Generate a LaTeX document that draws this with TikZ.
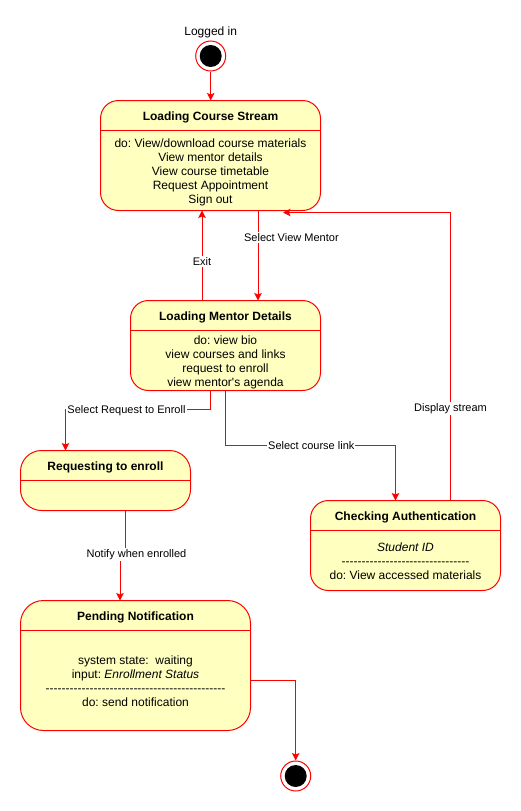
\documentclass[tikz,border=0pt]{standalone}
\usepackage{fontspec}
\setmainfont{Liberation Sans}[Ligatures=TeXOff]
\usetikzlibrary{arrows.meta}
\definecolor{stfill}{HTML}{FFFFC0}
\definecolor{stred}{HTML}{FF0000}
\newcommand\hyphrow[1]{\foreach \k in {1,...,#1}{-\kern0pt}}
\frenchspacing
\begin{document}
\begin{tikzpicture}[x=1pt,y=-1pt,
  statebox/.style={draw=stred, fill=stfill, line width=1pt, rectangle, anchor=north west, inner sep=0pt, outer sep=0pt},
  divider/.style={draw=stred, line width=1pt},
  ttl/.style={font=\fontsize{12}{14}\selectfont\bfseries, anchor=base, inner sep=0pt},
  bodytxt/.style={font=\fontsize{12}{14}\selectfont, anchor=base, inner sep=0pt},
  elabel/.style={font=\fontsize{11}{13}\selectfont, anchor=base, fill=white, inner xsep=1pt, inner ysep=1.5pt},
  conn/.style={draw=stred, line width=1pt, -{Stealth[length=7.5pt,width=7.5pt,inset=1.5pt]}},
  startstop/.style={circle, draw=stred, fill=white, line width=1pt, minimum size=30pt, inner sep=0pt},
]
\useasboundingbox (0,0) rectangle (521,811);
\fill[white] (0,0) rectangle (521,811);

% start / end states
\node[bodytxt] (loggedin) at (210.7,35.3) {Logged in};
\node[startstop] (init) at (210.7,56) {};
\fill[black] (init.center) circle (11);
\node[startstop] (fin) at (295.7,776) {};
\fill[black] (fin.center) circle (11);

% state boxes
\node[statebox, rounded corners=18pt, minimum width=220pt, minimum height=110pt] (cs) at (100.5,100.5) {};
\draw[divider] ([yshift=-30pt]cs.north west) -- ([yshift=-30pt]cs.north east);
\node[statebox, rounded corners=18pt, minimum width=190pt, minimum height=90pt] (md) at (130.5,300.5) {};
\draw[divider] ([yshift=-30pt]md.north west) -- ([yshift=-30pt]md.north east);
\node[statebox, rounded corners=21pt, minimum width=170pt, minimum height=60pt] (rq) at (20.5,450.5) {};
\draw[divider] ([yshift=-30pt]rq.north west) -- ([yshift=-30pt]rq.north east);
\node[statebox, rounded corners=18pt, minimum width=190pt, minimum height=90pt] (ca) at (310.5,500.5) {};
\draw[divider] ([yshift=-30pt]ca.north west) -- ([yshift=-30pt]ca.north east);
\node[statebox, rounded corners=23pt, minimum width=230pt, minimum height=130pt] (pn) at (20.5,600.5) {};
\draw[divider] ([yshift=-30pt]pn.north west) -- ([yshift=-30pt]pn.north east);

% texts: Loading Course Stream
\node[ttl] (cs-t) at (210.5,120.3) {Loading Course Stream};
\node[bodytxt] (cs-1) at (210.5,147) {do: View/download course materials};
\node[bodytxt] (cs-2) at (210.5,161) {View mentor details};
\node[bodytxt] (cs-3) at (210.5,175) {View course timetable};
\node[bodytxt] (cs-4) at (210.5,189) {Request Appointment};
\node[bodytxt] (cs-5) at (210.5,203) {Sign out};

% Loading Mentor Details
\node[ttl] (md-t) at (225.5,320.3) {Loading Mentor Details};
\node[bodytxt] (md-1) at (225.5,344) {do: view bio};
\node[bodytxt] (md-2) at (225.5,358) {view courses and links};
\node[bodytxt] (md-3) at (225.5,372) {request to enroll};
\node[bodytxt] (md-4) at (225.5,386) {view mentor's agenda};

% Requesting to enroll
\node[ttl] (rq-t) at (105.5,470.3) {Requesting to enroll};

% Checking Authentication
\node[ttl] (ca-t) at (405.5,520.3) {Checking Authentication};
\node[bodytxt] (ca-1) at (405.5,551) {\itshape Student ID};
\node[bodytxt] (ca-2) at (405.5,565) {\hyphrow{32}};
\node[bodytxt] (ca-3) at (405.5,579) {do: View accessed materials};

% Pending Notification
\node[ttl] (pn-t) at (135.5,620.3) {Pending Notification};
\node[bodytxt] (pn-1) at (135.5,664) {system state:\ \ waiting};
\node[bodytxt] (pn-2) at (135.5,678) {input: \textit{Enrollment Status}};
\node[bodytxt] (pn-3) at (135.5,692) {\hyphrow{45}};
\node[bodytxt] (pn-4) at (135.5,706) {do: send notification};

% connectors
\coordinate (dsEnd) at ([xshift=72.5pt,yshift=-2pt]cs.south);
\draw[conn] (init) -- (init |- cs.north);
\draw[conn] ([xshift=47.5pt]cs.south) -- ([xshift=32.5pt]md.north);
\draw[conn] ([xshift=-23.5pt]md.north) -- ([xshift=-8.5pt]cs.south);
\draw[conn] ([xshift=45pt]ca.north) |- (dsEnd);
\draw[conn] ([xshift=-15pt]md.south) -- ++(0,19) -| ([xshift=-40pt]rq.north);
\draw[conn] (md.south) -- ++(0,54.5) -| ([xshift=-10pt]ca.north);
\draw[conn] ([xshift=19.5pt]rq.south) -- ++(0,42.5) -| ([xshift=-15.5pt]pn.north);
\draw[conn] ([yshift=-14.5pt]pn.east) -| (fin);

% connector labels
\node[elabel] (l-svm) at (291.4,241) {Select View Mentor};
\node[elabel] (l-exit) at (202,265) {Exit};
\node[elabel] (l-sre) at (126.5,413.5) {Select Request to Enroll};
\node[elabel] (l-scl) at (311.3,449) {Select course link};
\node[elabel] (l-ds) at (450.5,411) {Display stream};
\node[elabel] (l-nwe) at (136.5,557) {Notify when enrolled};
\end{tikzpicture}
\end{document}
